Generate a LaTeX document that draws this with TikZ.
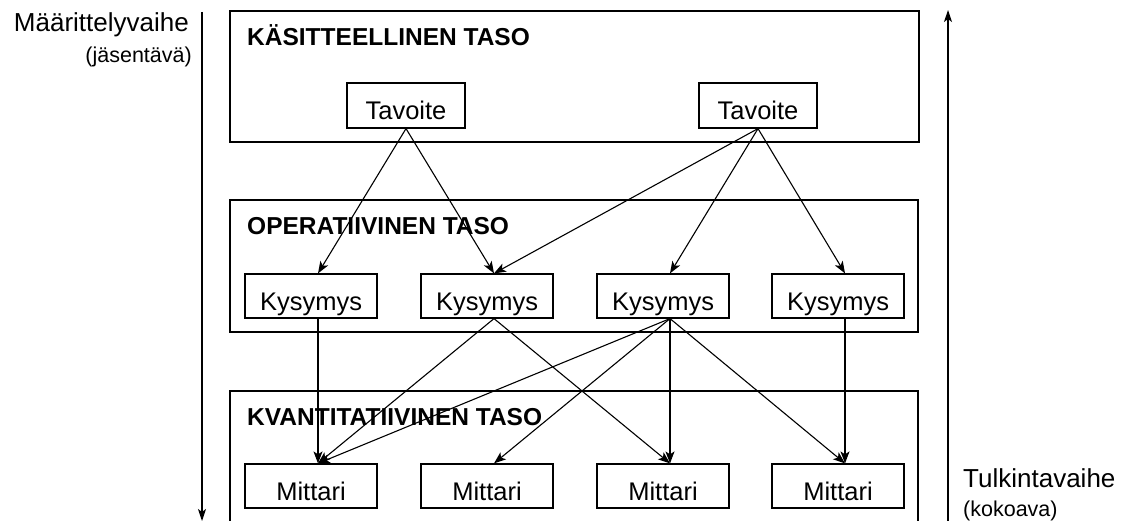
\documentclass[tikz,border=0pt]{standalone}
\usepackage{fontspec}
\setmainfont{Liberation Sans}
\usetikzlibrary{arrows.meta}
\begin{document}
\begin{tikzpicture}[x=1pt,y=-1pt,
  levelbox/.style={draw, line width=1.6pt, minimum width=689pt, inner sep=0pt},
  itembox/.style={draw, line width=1.2pt, minimum width=132pt, minimum height=44pt, inner sep=0pt, text height=28pt, text depth=0pt, font=\fontsize{25.5}{28}\selectfont},
  goalbox/.style={itembox, minimum width=118pt, minimum height=45pt},
  titletext/.style={anchor=base west, inner sep=0pt, font=\fontsize{24.5}{26}\selectfont\bfseries},
  sidetext/.style={inner sep=0pt, font=\fontsize{26}{28}\selectfont},
  subtext/.style={inner sep=0pt, font=\fontsize{21.5}{24}\selectfont},
  conn/.style={-{Stealth[length=12pt,width=9pt,inset=3pt]}, line width=1.1pt},
  phase/.style={-{Stealth[length=12pt,width=8pt,inset=3pt]}, line width=1.1pt},
]
\useasboundingbox (0,0) rectangle (1123,521);
\clip (0,0) rectangle (1123,521);

% level boxes
\node[levelbox, minimum height=131pt] (L1) at (574.5,76.5) {};
\node[levelbox, minimum width=688pt, minimum height=132pt] (L2) at (574,266) {};
\node[levelbox, minimum width=688pt, minimum height=160pt] (L3) at (574,471) {};

\node[titletext] (T1) at (247,46) {KÄSITTEELLINEN TASO};
\node[titletext] (T2) at (247,235) {OPERATIIVINEN TASO};
\node[titletext] (T3) at (247,425) {KVANTITATIIVINEN TASO};

% goals
\node[goalbox] (G1) at (406,105.5) {Tavoite};
\node[goalbox] (G2) at (758,105.5) {Tavoite};

% questions
\node[itembox] (K1) at (311,296) {Kysymys};
\node[itembox] (K2) at (487,296) {Kysymys};
\node[itembox] (K3) at (663,296) {Kysymys};
\node[itembox] (K4) at (838,296) {Kysymys};

% metrics
\node[itembox] (M1) at (311,486) {Mittari};
\node[itembox] (M2) at (487,486) {Mittari};
\node[itembox] (M3) at (663,486) {Mittari};
\node[itembox] (M4) at (838,486) {Mittari};

% connection points
\foreach \n in {K1,K2,K3,K4}{
  \coordinate (\n t) at ([xshift=7pt]\n.north);
  \coordinate (\n b) at ([xshift=7pt]\n.south);
}
\foreach \n in {M1,M2,M3,M4}{
  \coordinate (\n t) at ([xshift=7pt]\n.north);
}

\draw[conn] (G1.south) -- (K1t);
\draw[conn] (G1.south) -- (K2t);
\draw[conn] (G2.south) -- (K2t);
\draw[conn] (G2.south) -- (K3t);
\draw[conn] (G2.south) -- (K4t);

\draw[conn] (K1b) -- (M1t);
\draw[conn] (K2b) -- (M1t);
\draw[conn] (K2b) -- (M3t);
\draw[conn] (K3b) -- (M1t);
\draw[conn] (K3b) -- (M2t);
\draw[conn] (K3b) -- (M3t);
\draw[conn] (K3b) -- (M4t);
\draw[conn] (K4b) -- (M4t);

% phase arrows
\coordinate (A1) at (202,12);
\coordinate (A2) at (202,521);
\draw[phase] (A1) -- (A2);
\coordinate (B1) at (948,521);
\coordinate (B2) at (948,10);
\draw[phase] (B1) -- (B2);

\node[sidetext, anchor=base east] (D1) at (189,32) {Määrittelyvaihe};
\node[subtext, anchor=base east] (D2) at (192,63) {(jäsentävä)};
\node[sidetext, anchor=base west] (E1) at (963,487) {Tulkintavaihe};
\node[subtext, anchor=base west] (E2) at (963,516) {(kokoava)};
\end{tikzpicture}
\end{document}
